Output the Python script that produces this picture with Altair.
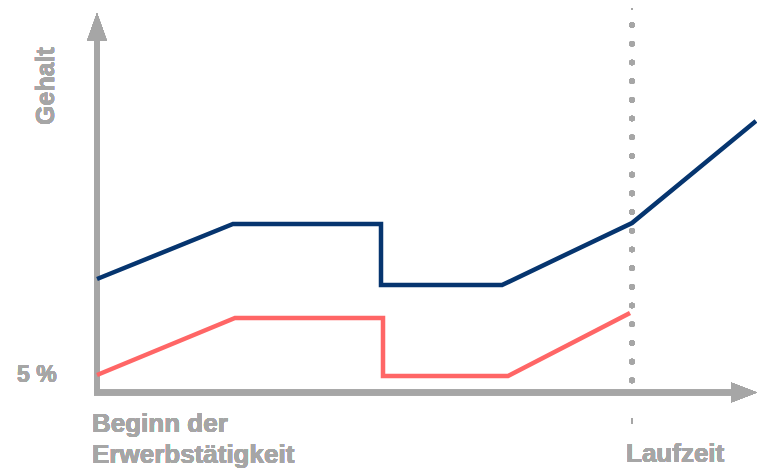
import altair as alt
import pandas as pd

# Values measured relative to the axis origin (x: time, y: salary)
navy_x = [0, 136, 284, 284, 405, 535, 659]
navy_y = [113, 168, 168, 107, 107, 169, 271]
red_x = [0, 138, 286, 286, 411, 533]
red_y = [17, 74, 74, 16, 16, 79]

series_names = ["Gehalt A", "Gehalt B"]
series_colors = ["#06356F", "#FF6666"]
GRAY = "#A6A6A6"
FONT = "Liberation Sans"

rows = []
for i, (x, y) in enumerate(zip(navy_x, navy_y)):
    rows.append({"x": x, "y": y, "s": series_names[0], "o": i})
for i, (x, y) in enumerate(zip(red_x, red_y)):
    rows.append({"x": x, "y": y, "s": series_names[1], "o": i})
df = pd.DataFrame(rows)

xs = alt.Scale(domain=[-89, 660], nice=False, zero=False)
ys = alt.Scale(domain=[-76, 384], nice=False, zero=False)

def X(v):
    return alt.X(datum=v, type="quantitative", scale=xs, axis=None)

def Y(v):
    return alt.Y(datum=v, type="quantitative", scale=ys, axis=None)

base = alt.Chart(df)

# axes
y_axis = base.mark_rule(color=GRAY, strokeWidth=5, strokeCap="square").encode(
    x=X(0), y=Y(-0.5), y2=alt.Y2(datum=351)
)
x_axis = base.mark_rule(color=GRAY, strokeWidth=5.5, strokeCap="square").encode(
    x=X(0), x2=alt.X2(datum=635), y=Y(-0.5)
)
up_arrow = base.mark_point(
    shape="M0,-1L0.714,1L-0.714,1Z", size=784, filled=True, color=GRAY, opacity=1, strokeWidth=0
).encode(x=X(0), y=Y(365))
right_arrow = base.mark_point(
    shape="M1,0L-1,-0.77L-1,0.77Z", size=676, filled=True, color=GRAY, opacity=1, strokeWidth=0
).encode(x=X(647), y=Y(-0.5))

# dotted vertical marker
dots = base.mark_rule(color=GRAY, strokeWidth=5.5, strokeCap="round", strokeDash=[0.1, 18.6]).encode(
    x=X(535), y=Y(367), y2=alt.Y2(datum=-5)
)
tick_top = base.mark_rule(color=GRAY, strokeWidth=1.5).encode(
    x=X(535), y=Y(384), y2=alt.Y2(datum=382)
)
tick_bottom = base.mark_rule(color=GRAY, strokeWidth=1.5).encode(
    x=X(535), y=Y(-26), y2=alt.Y2(datum=-32)
)

lines = base.mark_line(strokeWidth=4.5, strokeJoin="miter").encode(
    x=alt.X("x:Q", scale=xs, axis=None),
    y=alt.Y("y:Q", scale=ys, axis=None),
    color=alt.Color("s:N", scale=alt.Scale(domain=series_names, range=series_colors), legend=None),
    order="o:Q",
    detail="s:N",
)

def label(text, x, y, size, align="left", angle=0):
    return base.mark_text(
        text=text, font=FONT, fontWeight="bold", fontSize=size, color=GRAY,
        align=align, baseline="alphabetic", angle=angle
    ).encode(x=X(x), y=Y(y))

t_gehalt = label("Gehalt", -43, 306, 25, align="center", angle=270)
t_5 = label("5 %", -80, 10, 23)
t_beginn = label("Beginn der", -5, -40, 26)
t_erw = label("Erwerbstätigkeit", -5, -71, 26)
t_lauf = label("Laufzeit", 529, -70, 26)

chart = alt.layer(
    dots, tick_top, tick_bottom, y_axis, x_axis, up_arrow, right_arrow, lines,
    t_gehalt, t_5, t_beginn, t_erw, t_lauf
).properties(
    width=749, height=460, padding=0, autosize=alt.AutoSizeParams(type="none")
).configure_view(stroke=None)

chart.save("out.html", embed_options={"renderer": "svg", "actions": False})
